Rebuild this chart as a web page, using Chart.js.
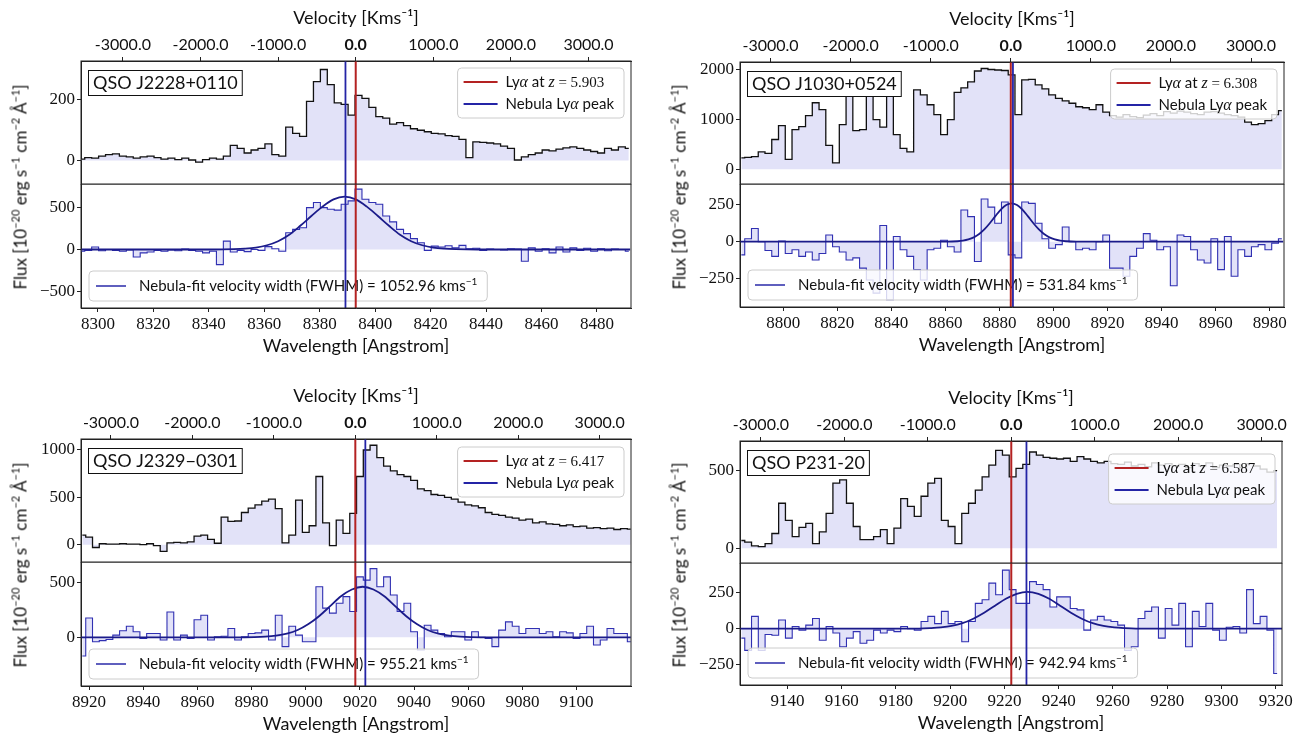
<!DOCTYPE html>
<html>
<head>
<meta charset="utf-8">
<title>Nebula Lya spectra</title>
<script src="https://cdn.jsdelivr.net/npm/chart.js@4.4.1/dist/chart.umd.min.js"></script>
<style>
  body { margin:0; background:#fff; }
  #wrap { position:relative; width:1307px; height:736px; overflow:hidden; background:#fff; }
  #wrap canvas { position:absolute; }
  .ylab { position:absolute; white-space:nowrap; font:17px Lato, "DejaVu Sans", sans-serif; color:#111;
          transform:translate(-50%,-50%) rotate(-90deg); }
  .ylab sup { font-size:11px; line-height:0; }
</style>
</head>
<body>
<div id="wrap"></div>
<script>
// wavelength grid step of the binned spectra (Angstrom)
const WAVE_STEP = 2.5;
const C_KMS = 299792.458;
const velTicks = [-3000, -2000, -1000, 0, 1000, 2000, 3000];

// ---- QSO J2228+0110 ----
const p1WaveRange = [8293.9, 8492.3];
const p1WaveTicks = [8300, 8320, 8340, 8360, 8380, 8400, 8420, 8440, 8460, 8480];
const p1Wave0 = 8294;
const p1TopFlux = [5,10,8,15,20,22,15,12,8,12, 15,10,5,8,3,8,2,-5,3,8, 5,15,50,40,25,35,40,55,20,15,
  110,90,80,195,260,300,250,190,185,150, 215,205,175,145,140,120,125,115,105,100,
  95,90,88,82,80,70,10,62,60,58, 55,48,40,2,12,20,25,35,32,38, 42,45,40,35,30,25,40,35,45,40];
const p1BotFlux = [-20,-10,30,-15,0,-10,-20,-5,-90,-40, -30,-10,-20,-5,-15,5,-10,-20,-40,-20,
  -180,100,-30,-10,-25,0,-10,35,10,-20, 200,240,260,500,560,500,480,470,540,580,
  720,600,560,540,400,330,240,190,130,80, -10,40,30,45,20,50,10,15,-10,5,
  0,-5,10,5,-140,20,-20,10,-40,30, -30,20,-10,15,-20,10,-15,5,0,-20];
const p1FitWave = [8294,8341,8349,8353,8357,8361,8365,8369,8373,8377,8381,8385,8389,8393,8397,8401,8405,8409,8413,8417,8421,8425,8429,8437,8492];
const p1FitFlux = [0,0,4,10,23,51,99,176,283,399,511,598,630,598,511,399,283,176,99,51,23,10,4,0,0];
const p1TopRange = [-77, 328], p1TopTicks = [0, 200];
const p1BotRange = [-697, 781], p1BotTicks = [-500, 0, 500];

// ---- QSO J1030+0524 ----
const p2WaveRange = [8784, 8985.3];
const p2WaveTicks = [8800, 8820, 8840, 8860, 8880, 8900, 8920, 8940, 8960, 8980];
const p2Wave0 = 8784.5;
const p2TopFlux = [230,240,255,350,320,600,880,200,800,860, 1080,1340,1200,480,130,900,1480,780,800,1550,
  1000,850,1500,700,420,350,1600,1500,1300,1100, 700,1000,1550,1640,1760,1980,2030,2010,2000,1990,
  1900,1100,1800,1810,1700,1620,1500,1430,1380,1330, 1260,1240,1200,1300,1150,1080,1050,1100,1060,1040,
  1090,1120,1080,1160,1130,1170,1150,1120,1100,1150, 1160,1130,1100,1080,1050,950,900,920,980,1100, 1180];
const p2BotFlux = [-90,20,90,0,-60,-100,5,-80,-55,-100, -70,-125,-80,45,-35,-70,-125,-110,-180,-260,
  -350,110,-395,35,-55,-100,-190,-260,-55,-45, 10,-35,-70,215,170,-135,290,235,125,270,
  -90,-110,270,260,125,20,-45,-20,100,0, -55,-45,-55,0,45,-180,-180,-235,-100,-45,
  55,10,-55,-35,-300,45,35,-55,-125,-145, 20,-190,35,-235,-55,-100,-35,-20,-55,-10, 20];
const p2FitWave = [8784,8860.5,8864.5,8866.5,8868.5,8870.5,8872.5,8874.5,8876.5,8878.5,8880.5,8882.5,8884.5,8886.5,8888.5,8890.5,8892.5,8894.5,8896.5,8898.5,8900.5,8902.5,8904.5,8908.5,8985];
const p2FitFlux = [0,0,3,7,15,29,52,85,127,174,218,249,260,249,218,174,127,85,52,29,15,7,3,0,0];
const p2TopRange = [-296, 2161], p2TopTicks = [0, 1000, 2000];
const p2BotRange = [-444, 392], p2BotTicks = [-250, 0, 250];

// ---- QSO J2329-0301 ----
const p3WaveRange = [8917, 9120.1];
const p3WaveTicks = [8920, 8940, 8960, 8980, 9000, 9020, 9040, 9060, 9080, 9100];
const p3Wave0 = 8917.5;
const p3TopFlux = [100,80,-30,10,5,5,10,5,5,0, 10,-10,-70,20,25,20,30,90,100,55,
  15,290,245,250,340,385,420,460,480,380, 20,100,470,130,200,720,230,-10,260,120,
  330,720,1000,1050,920,830,780,740,720,680, 590,570,530,520,500,480,450,420,410,390,
  340,320,310,290,280,260,270,230,240,220, 215,200,210,190,195,175,180,170,175,160, 170,165];
const p3BotFlux = [-170,175,-40,-30,-20,20,60,100,50,-10, 35,35,-25,230,-25,20,-10,160,200,-25,
  5,10,80,-25,5,35,40,65,-25,200, -85,100,20,-40,-40,460,265,220,310,370,
  235,550,520,625,460,550,385,235,310,50, -115,110,65,35,5,50,50,-25,50,0,
  -10,-85,65,140,100,35,80,80,35,50, 5,50,40,-10,35,100,-70,-25,80,35, 35,-40];
const p3FitWave = [8917,8973,8981,8985,8989,8993,8997,9001,9005,9009,9013,9017,9021,9025,9029,9033,9037,9041,9045,9049,9053,9057,9061,9069,9120];
const p3FitFlux = [0,0,2,6,15,33,66,120,194,283,373,435,460,435,373,283,194,120,66,33,15,6,2,0,0];
const p3TopRange = [-183, 1116], p3TopTicks = [0, 500, 1000];
const p3BotRange = [-443, 685], p3BotTicks = [0, 500];

// ---- QSO P231-20 ----
const p4WaveRange = [9122.5, 9322.3];
const p4WaveTicks = [9140, 9160, 9180, 9200, 9220, 9240, 9260, 9280, 9300, 9320];
const p4Wave0 = 9123;
const p4TopFlux = [50,40,15,10,30,95,290,180,75,135, 160,30,105,225,420,440,290,140,55,55,
  75,120,30,130,320,270,205,335,420,450, 180,140,30,225,290,375,460,535,630,600,
  460,515,540,620,600,585,580,575,580,560, 590,575,560,550,560,545,540,555,530,540,
  525,550,535,545,530,540,520,545,530,550, 520,535,530,540,520,545,530,510,490,500];
const p4BotFlux = [-65,-150,85,-150,-40,-45,60,-65,15,-10, 25,70,-80,15,-30,-125,-65,-20,-100,-80,
  -10,-30,-10,-20,15,0,-10,50,85,35, 120,35,50,-90,50,175,200,315,235,405,
  270,175,175,325,305,270,150,220,220,140, 130,-10,60,85,60,50,25,-150,-125,70,
  120,150,-65,140,25,175,-125,120,15,175, -10,-80,10,15,-30,270,35,85,-10,-310];
const p4FitWave = [9122.5,9180.5,9188.5,9192.5,9196.5,9200.5,9204.5,9208.5,9212.5,9216.5,9220.5,9224.5,9228.5,9232.5,9236.5,9240.5,9244.5,9248.5,9252.5,9256.5,9260.5,9264.5,9268.5,9276.5,9322.3];
const p4FitFlux = [0,0,1,4,9,19,38,69,110,159,207,241,255,241,207,159,110,69,38,19,9,4,1,0,0];
const p4TopRange = [-95, 691], p4TopTicks = [0, 500];
const p4BotRange = [-389, 454], p4BotTicks = [-250, 0, 250];

// names, redshifts, fitted widths, line positions (Angstrom)
const qsoNames = ['QSO J2228+0110', 'QSO J1030+0524', 'QSO J2329\u22120301', 'QSO P231-20'];
const qsoZ = ['5.903', '6.308', '6.417', '6.587'];
const fwhmKms = ['1052.96', '531.84', '955.21', '942.94'];
const lyaWave = [8393, 8884.2, 9018.3, 9222.5];
const nebPeakWave = [8389.3, 8885.0, 9022, 9228.1];

const SANS = 'Lato, "DejaVu Sans", sans-serif';
const SERIF = "'Liberation Serif'";
const FILL = '#e2e2f8';
const RED = '#b42222';
const BLUE = '#2424a6';
const INK = '#111';
const LEFT_W = 60, TOP_H = 60, BOT_H = 52, PAD_R = 20;

const panels = [
  { frame:{l:81, r:631, t:61, d:184, b:308}, legT:7, xr:p1WaveRange, wt:p1WaveTicks, w0:p1Wave0, top:p1TopFlux, bot:p1BotFlux,
    fw:p1FitWave, ff:p1FitFlux, yt:p1TopRange, ytt:p1TopTicks, yb:p1BotRange, ybt:p1BotTicks },
  { frame:{l:740, r:1284, t:62, d:184, b:307}, legT:7, xr:p2WaveRange, wt:p2WaveTicks, w0:p2Wave0, top:p2TopFlux, bot:p2BotFlux,
    fw:p2FitWave, ff:p2FitFlux, yt:p2TopRange, ytt:p2TopTicks, yb:p2BotRange, ybt:p2BotTicks },
  { frame:{l:81, r:631, t:439, d:562, b:686}, legT:8, xr:p3WaveRange, wt:p3WaveTicks, w0:p3Wave0, top:p3TopFlux, bot:p3BotFlux,
    fw:p3FitWave, ff:p3FitFlux, yt:p3TopRange, ytt:p3TopTicks, yb:p3BotRange, ybt:p3BotTicks },
  { frame:{l:740, r:1282, t:441, d:563, b:685}, legT:13, xr:p4WaveRange, wt:p4WaveTicks, w0:p4Wave0, top:p4TopFlux, bot:p4BotFlux,
    fw:p4FitWave, ff:p4FitFlux, yt:p4TopRange, ytt:p4TopTicks, yb:p4BotRange, ybt:p4BotTicks }
];

const wrap = document.getElementById('wrap');

function addCanvas(left, top, w, h) {
  const c = document.createElement('canvas');
  c.width = w; c.height = h;
  c.style.left = left + 'px'; c.style.top = top + 'px';
  c.style.width = w + 'px'; c.style.height = h + 'px';
  wrap.appendChild(c);
  return c;
}

function steps(w0, vals) { return vals.map((v, i) => ({x: w0 + i * WAVE_STEP, y: v})); }
function pairs(ws, fs) { return ws.map((w, i) => ({x: w, y: fs[i]})); }
function minusFmt(v) { return v < 0 ? '\u2212' + Math.abs(v) : String(v); }

// little rich-text helper for legend labels (math italics / superscripts)
function richWidth(ctx, segs) {
  let w = 0;
  for (const s of segs) { ctx.font = s.f; w += ctx.measureText(s.t).width; }
  return w;
}
function drawRich(ctx, x, y, segs) {
  for (const s of segs) {
    ctx.font = s.f;
    ctx.fillText(s.t, x, y + (s.dy || 0));
    x += ctx.measureText(s.t).width;
  }
}
const fSans = '15px ' + SANS, fIt = 'italic 16px ' + SERIF, fSer = '15px ' + SERIF, fSup = '10px ' + SANS;
const lyaSegs = z => [{t:'Ly', f:fSans}, {t:'\u03B1', f:fIt}, {t:' at ', f:fSans}, {t:'z', f:fIt}, {t:' = ' + z, f:fSer}];
const peakSegs = () => [{t:'Nebula Ly', f:fSans}, {t:'\u03B1', f:fIt}, {t:' peak', f:fSans}];
const fwhmSegs = v => [{t:'Nebula-fit velocity width (FWHM) = ' + v + ' kms', f:fSans}, {t:'\u22121', f:fSup, dy:-6}];

function legendBox(ctx, x, y, w, h) {
  ctx.beginPath();
  ctx.roundRect(x, y, w, h, 4);
  ctx.fillStyle = 'rgba(255,255,255,0.8)';
  ctx.fill();
  ctx.strokeStyle = '#cccccc';
  ctx.lineWidth = 1;
  ctx.stroke();
}
function hline(ctx, x0, x1, y, c, lw) {
  ctx.strokeStyle = c; ctx.lineWidth = lw;
  ctx.beginPath(); ctx.moveTo(x0, y); ctx.lineTo(x1, y); ctx.stroke();
}

function decoPlugin(k, isTop) {
  const p = panels[k];
  return {
    id: 'deco',
    afterDatasetsDraw(chart) {
      const ctx = chart.ctx, a = chart.chartArea, xs = chart.scales.x;
      ctx.save();
      ctx.textBaseline = 'alphabetic';
      if (isTop) {
        // name box
        ctx.font = '18px ' + SANS;
        const nw = ctx.measureText(qsoNames[k]).width;
        const bx = a.left + 7, by = a.top + 9;
        ctx.fillStyle = '#fff';
        ctx.fillRect(bx, by, nw + 9, 25);
        ctx.strokeStyle = '#111'; ctx.lineWidth = 1;
        ctx.strokeRect(bx + 0.5, by + 0.5, nw + 9, 25);
        ctx.fillStyle = INK;
        ctx.fillText(qsoNames[k], bx + 5, by + 19);
        // line legend
        const rows = [{c:RED, s:lyaSegs(qsoZ[k])}, {c:BLUE, s:peakSegs()}];
        const tw = Math.max(...rows.map(r => richWidth(ctx, r.s)));
        const w = 48 + tw + 10, h = 50;
        const x = a.right - 7 - w, y = a.top + p.legT;
        legendBox(ctx, x, y, w, h);
        rows.forEach((r, i) => {
          const cy = y + 14 + i * 22;
          hline(ctx, x + 6, x + 40, cy, r.c, 2);
          ctx.fillStyle = INK;
          drawRich(ctx, x + 48, cy + 5, r.s);
        });
      } else {
        const segs = fwhmSegs(fwhmKms[k]);
        const tw = richWidth(ctx, segs);
        const w = 50 + tw + 10, h = 30;
        const x = a.left + 8, y = a.bottom - 7 - h;
        legendBox(ctx, x, y, w, h);
        const cy = y + 15;
        hline(ctx, x + 7, x + 37, cy, '#2a2aa8', 1.5);
        ctx.fillStyle = INK;
        drawRich(ctx, x + 50, cy + 5, segs);
      }
      // Lya and nebula peak markers
      [[lyaWave[k], RED, 2], [nebPeakWave[k], BLUE, 1.8]].forEach(([wl, c, lw]) => {
        const px = xs.getPixelForValue(wl);
        ctx.strokeStyle = c; ctx.lineWidth = lw;
        ctx.beginPath(); ctx.moveTo(px, a.top); ctx.lineTo(px, a.bottom); ctx.stroke();
      });
      // axes frame
      ctx.strokeStyle = '#222'; ctx.lineWidth = 1;
      ctx.strokeRect(a.left, a.top, a.right - a.left, a.bottom - a.top);
      ctx.restore();
    }
  };
}

const serifTicks = () => ({family: SERIF, size: 17, weight: 'normal', style: 'normal'});

function yScale(range, ticks) {
  return {
    min: range[0], max: range[1],
    afterBuildTicks: s => { s.ticks = ticks.map(v => ({value: v})); },
    afterFit: s => { s.width = LEFT_W; s.paddingTop = 0; s.paddingBottom = 0; },
    ticks: { font: serifTicks, color: INK, padding: 2, callback: v => minusFmt(v) },
    grid: { drawOnChartArea: false, tickLength: 4, color: '#222' },
    border: { color: '#222' }
  };
}

const baseOpts = {
  responsive: false, maintainAspectRatio: false, animation: false,
  plugins: { legend: {display: false}, tooltip: {enabled: false} }
};

panels.forEach((p, k) => {
  const f = p.frame;
  const width = (f.r - f.l) + LEFT_W + PAD_R;
  const lam0 = lyaWave[k];
  const vel = wl => C_KMS * (wl - lam0) / lam0;

  // upper panel: quasar spectrum with velocity axis on top
  const cTop = addCanvas(f.l - LEFT_W, f.t - TOP_H, width, (f.d - f.t) + TOP_H + 1);
  new Chart(cTop, {
    type: 'line',
    data: { datasets: [{
      data: steps(p.w0, p.top), stepped: 'middle', borderColor: INK, borderWidth: 1.3,
      pointRadius: 0, fill: 'origin', backgroundColor: FILL, xAxisID: 'x', yAxisID: 'y'
    }]},
    options: Object.assign({}, baseOpts, {
      layout: { padding: {left: 0, right: PAD_R, top: 0, bottom: 1} },
      scales: {
        x: { type: 'linear', display: false, min: p.xr[0], max: p.xr[1] },
        v: {
          type: 'linear', axis: 'x', position: 'top', min: vel(p.xr[0]), max: vel(p.xr[1]),
          afterBuildTicks: s => { s.ticks = velTicks.map(v => ({value: v})); },
          afterFit: s => { s.height = TOP_H; s.paddingLeft = 0; s.paddingRight = 0; },
          ticks: {
            autoSkip: false, maxRotation: 0, padding: 3, color: INK,
            font: c => ({family: SANS, size: 16, weight: (c.tick && c.tick.value === 0) ? 'bold' : 'normal'}),
            callback: v => v.toFixed(1)
          },
          title: { display: true, text: 'Velocity [Kms\u207B\u00B9]', color: INK,
                   font: {family: SANS, size: 18}, padding: {top: 6, bottom: 0} },
          grid: { drawOnChartArea: false, tickLength: 4, color: '#222' },
          border: { color: '#222' }
        },
        y: yScale(p.yt, p.ytt)
      }
    }),
    plugins: [decoPlugin(k, true)]
  });

  // lower panel: nebula spectrum and gaussian fit
  const cBot = addCanvas(f.l - LEFT_W, f.d, width, (f.b - f.d) + BOT_H);
  new Chart(cBot, {
    type: 'line',
    data: { datasets: [
      { data: pairs(p.fw, p.ff), borderColor: '#1b1b8a', borderWidth: 1.8, pointRadius: 0,
        cubicInterpolationMode: 'monotone', fill: false },
      { data: steps(p.w0, p.bot), stepped: 'middle', borderColor: '#3030b2', borderWidth: 1.1,
        pointRadius: 0, fill: 'origin', backgroundColor: FILL }
    ]},
    options: Object.assign({}, baseOpts, {
      layout: { padding: {left: 0, right: PAD_R, top: 0, bottom: 0} },
      scales: {
        x: {
          type: 'linear', position: 'bottom', min: p.xr[0], max: p.xr[1],
          afterBuildTicks: s => { s.ticks = p.wt.map(v => ({value: v})); },
          afterFit: s => { s.height = BOT_H; s.paddingLeft = 0; s.paddingRight = 0; },
          ticks: { autoSkip: false, maxRotation: 0, padding: 2, color: INK,
                   font: serifTicks, callback: v => String(v) },
          title: { display: true, text: 'Wavelength [Angstrom]', color: INK,
                   font: {family: SANS, size: 18}, padding: {top: 0, bottom: 3} },
          grid: { drawOnChartArea: false, tickLength: 4, color: '#222' },
          border: { color: '#222' }
        },
        y: yScale(p.yb, p.ybt)
      }
    }),
    plugins: [decoPlugin(k, false)]
  });

  // shared flux label for both rows
  const lab = document.createElement('div');
  lab.className = 'ylab';
  lab.innerHTML = 'Flux [10<sup>\u221220</sup> erg s<sup>\u22121</sup> cm<sup>\u22122</sup> \u00C5<sup>\u22121</sup>]';
  lab.style.left = (f.l - 61) + 'px';
  lab.style.top = ((f.t + f.b) / 2 + 2) + 'px';
  wrap.appendChild(lab);
});
</script>
</body>
</html>
